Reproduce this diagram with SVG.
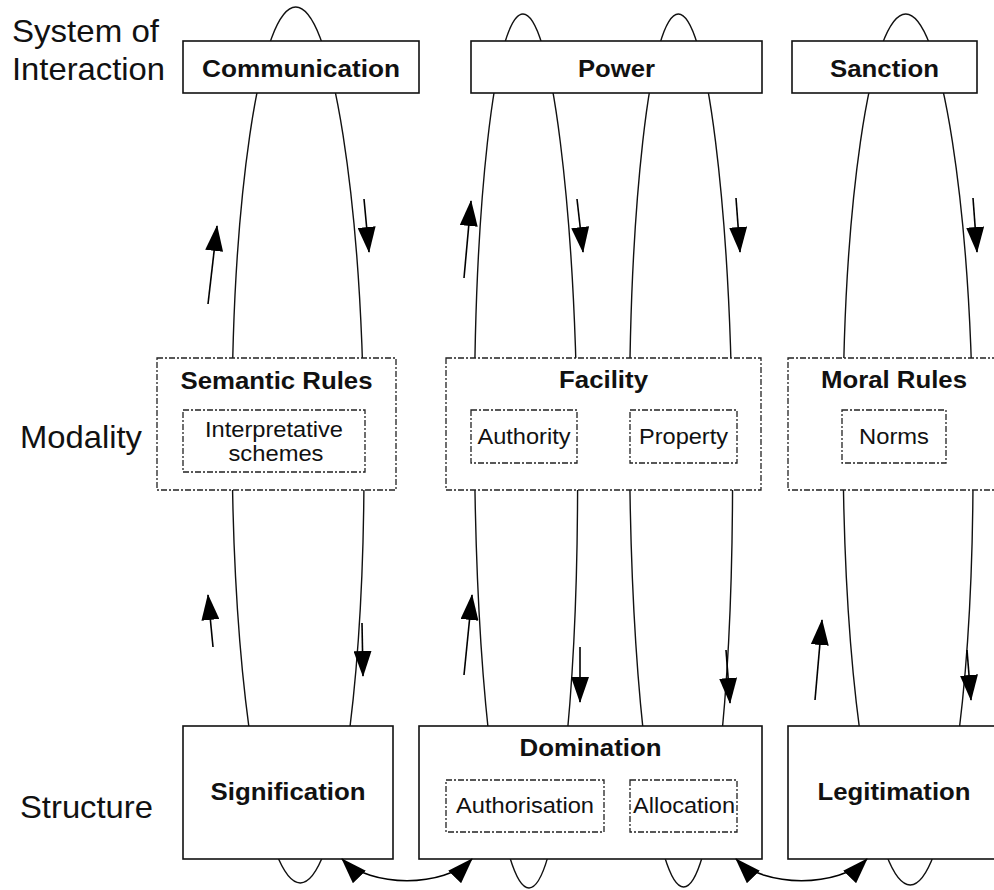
<svg xmlns="http://www.w3.org/2000/svg" width="994" height="890" viewBox="0 0 994 890">
  <style>
    .bg { fill: #ffffff; }
    .loop { fill: none; stroke: #111; stroke-width: 1.4; }
    .solid { fill: #ffffff; stroke: #111; stroke-width: 1.6; }
    .dash { fill: #ffffff; stroke: #222; stroke-width: 1.3; stroke-dasharray: 6 2 2 2; }
    .flow { fill: none; stroke: #000; stroke-width: 1.6; }
    .lvl { font-family: "Liberation Sans", Arial, sans-serif; font-size: 30.5px; fill: #111; }
    .b { font-family: "Liberation Sans", Arial, sans-serif; font-size: 24px; font-weight: bold; fill: #111; text-anchor: middle; }
    .r { font-family: "Liberation Sans", Arial, sans-serif; font-size: 22px; fill: #111; text-anchor: middle; }
  </style>
  <defs>
    <marker id="head" viewBox="0 0 26 18" markerUnits="userSpaceOnUse" markerWidth="26" markerHeight="18" refX="25" refY="9" orient="auto-start-reverse">
      <path d="M0,0 L26,9 L0,18 Z" fill="#000"/>
    </marker>
  </defs>

  <rect class="bg" x="0" y="0" width="994" height="890"/>

  <!-- duality loops running through each column (drawn behind the boxes) -->
  <g id="loops">
    <ellipse class="loop" cx="298" cy="445" rx="66" ry="438" transform="rotate(-0.3 298 445)"/>
    <ellipse class="loop" cx="526" cy="451" rx="51.5" ry="437" transform="rotate(-0.4 526 451)"/>
    <ellipse class="loop" cx="681" cy="450.5" rx="51.5" ry="436.5" transform="rotate(-0.35 681 450.5)"/>
    <ellipse class="loop" cx="908" cy="449.5" rx="65" ry="435.5" transform="rotate(-0.3 908 449.5)"/>
  </g>

  <!-- level labels -->
  <g id="levels">
    <text class="lvl" x="12" y="42" textLength="147" lengthAdjust="spacingAndGlyphs">System of</text>
    <text class="lvl" x="12" y="80" textLength="153" lengthAdjust="spacingAndGlyphs">Interaction</text>
    <text class="lvl" x="20" y="448" textLength="122" lengthAdjust="spacingAndGlyphs">Modality</text>
    <text class="lvl" x="20" y="818" textLength="133" lengthAdjust="spacingAndGlyphs">Structure</text>
  </g>

  <!-- interaction row -->
  <g id="communication">
    <rect class="solid" x="183" y="41" width="236" height="52"/>
    <text class="b" x="301" y="77" textLength="198" lengthAdjust="spacingAndGlyphs">Communication</text>
  </g>
  <g id="power">
    <rect class="solid" x="471" y="41" width="291" height="52"/>
    <text class="b" x="616.5" y="77" textLength="77" lengthAdjust="spacingAndGlyphs">Power</text>
  </g>
  <g id="sanction">
    <rect class="solid" x="792" y="41" width="185" height="52"/>
    <text class="b" x="884.5" y="77" textLength="109" lengthAdjust="spacingAndGlyphs">Sanction</text>
  </g>

  <!-- modality row -->
  <g id="semantic-rules">
    <rect class="dash" x="157" y="358" width="239" height="132"/>
    <text class="b" x="276.5" y="389" textLength="192" lengthAdjust="spacingAndGlyphs">Semantic Rules</text>
    <rect class="dash" x="183" y="410" width="182" height="62"/>
    <text class="r" x="274" y="437" textLength="138" lengthAdjust="spacingAndGlyphs">Interpretative</text>
    <text class="r" x="276" y="461" textLength="95" lengthAdjust="spacingAndGlyphs">schemes</text>
  </g>
  <g id="facility">
    <rect class="dash" x="446" y="358" width="315" height="132"/>
    <text class="b" x="603.5" y="388" textLength="89" lengthAdjust="spacingAndGlyphs">Facility</text>
    <rect class="dash" x="471" y="410" width="106" height="53"/>
    <text class="r" x="524" y="444" textLength="93" lengthAdjust="spacingAndGlyphs">Authority</text>
    <rect class="dash" x="630" y="410" width="107" height="53"/>
    <text class="r" x="683.5" y="444" textLength="89" lengthAdjust="spacingAndGlyphs">Property</text>
  </g>
  <g id="moral-rules">
    <rect class="dash" x="788" y="358" width="215" height="132"/>
    <text class="b" x="894" y="388" textLength="146" lengthAdjust="spacingAndGlyphs">Moral Rules</text>
    <rect class="dash" x="842" y="410" width="104" height="53"/>
    <text class="r" x="894" y="444" textLength="70" lengthAdjust="spacingAndGlyphs">Norms</text>
  </g>

  <!-- structure row -->
  <g id="signification">
    <rect class="solid" x="183" y="726" width="210" height="133"/>
    <text class="b" x="288" y="800" textLength="155" lengthAdjust="spacingAndGlyphs">Signification</text>
  </g>
  <g id="domination">
    <rect class="solid" x="419" y="726" width="343" height="133"/>
    <text class="b" x="590.5" y="756" textLength="142" lengthAdjust="spacingAndGlyphs">Domination</text>
    <rect class="dash" x="446" y="780" width="158" height="52"/>
    <text class="r" x="525" y="813" textLength="138" lengthAdjust="spacingAndGlyphs">Authorisation</text>
    <rect class="dash" x="630" y="780" width="107" height="52"/>
    <text class="r" x="684" y="813" textLength="102" lengthAdjust="spacingAndGlyphs">Allocation</text>
  </g>
  <g id="legitimation">
    <rect class="solid" x="788" y="726" width="215" height="133"/>
    <text class="b" x="894" y="800" textLength="153" lengthAdjust="spacingAndGlyphs">Legitimation</text>
  </g>

  <!-- direction arrows and structure links -->
  <g id="connectors">
    <line class="flow" x1="208" y1="304" x2="217" y2="226" marker-end="url(#head)"/>
    <line class="flow" x1="364" y1="199" x2="369" y2="252" marker-end="url(#head)"/>
    <line class="flow" x1="464" y1="278" x2="471" y2="201" marker-end="url(#head)"/>
    <line class="flow" x1="577" y1="199" x2="583" y2="252" marker-end="url(#head)"/>
    <line class="flow" x1="736" y1="198" x2="740" y2="252" marker-end="url(#head)"/>
    <line class="flow" x1="973" y1="198" x2="977" y2="252" marker-end="url(#head)"/>

    <line class="flow" x1="213" y1="647" x2="208" y2="595" marker-end="url(#head)"/>
    <line class="flow" x1="362" y1="623" x2="363" y2="676" marker-end="url(#head)"/>
    <line class="flow" x1="464" y1="675" x2="472" y2="595" marker-end="url(#head)"/>
    <line class="flow" x1="580" y1="647" x2="580" y2="702" marker-end="url(#head)"/>
    <line class="flow" x1="726" y1="650" x2="730" y2="703" marker-end="url(#head)"/>
    <line class="flow" x1="815" y1="700" x2="822" y2="620" marker-end="url(#head)"/>
    <line class="flow" x1="967" y1="650" x2="971" y2="700" marker-end="url(#head)"/>

    <path class="flow" d="M342,859 C370,888 444,888 472,859" marker-start="url(#head)" marker-end="url(#head)"/>
    <path class="flow" d="M736,859 C764,888 839,888 867,859" marker-start="url(#head)" marker-end="url(#head)"/>
  </g>
</svg>
